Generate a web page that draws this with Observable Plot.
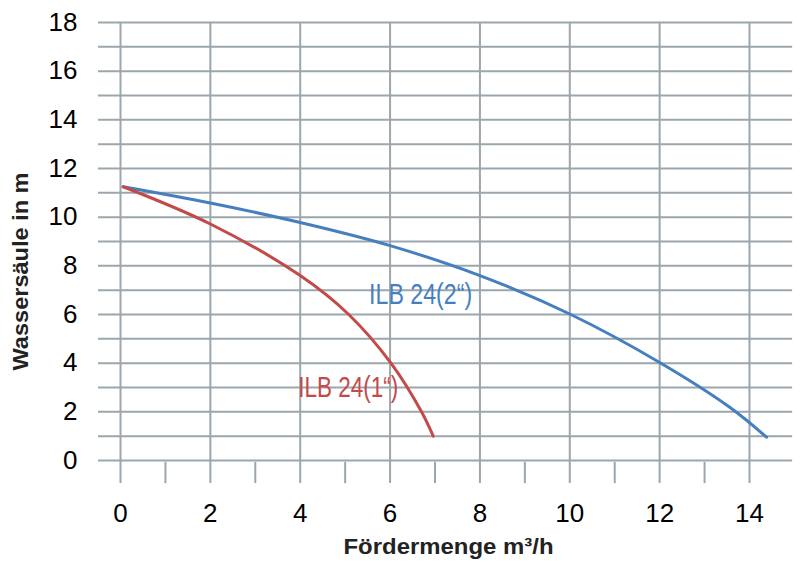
<!DOCTYPE html>
<html><head><meta charset="utf-8">
<script src="https://cdn.jsdelivr.net/npm/d3@7"></script>
<script src="https://cdn.jsdelivr.net/npm/@observablehq/plot@0.6"></script>
<style>body{margin:0;background:#fff;}</style>
</head><body><div id="chart"></div>
<script>
// Tick values
const xTicks = [0, 2, 4, 6, 8, 10, 12, 14];
const xMinorTicks = [1, 3, 5, 7, 9, 11, 13];
const yTicks = [0, 2, 4, 6, 8, 10, 12, 14, 16, 18];
const yGridLines = [0, 1, 2, 3, 4, 5, 6, 7, 8, 9, 10, 11, 12, 13, 14, 15, 16, 17, 18];

// Series: ILB 24(2") (blue)
const flow2 = [0.06, 2, 4, 6, 8, 10, 12, 13.56, 14.38];
const head2 = [11.25, 10.58, 9.78, 8.83, 7.6, 6.02, 4.03, 2.19, 0.96];
// Series: ILB 24(1") (red)
const flow1 = [0.06, 2, 4, 5.08, 6.02, 6.7, 6.96];
const head1 = [11.25, 9.72, 7.6, 6.0, 4.0, 2.0, 1.0];

const seriesNames = ["ILB 24(2\u201C)", "ILB 24(1\u201C)"];
const labelX = [6.68, 5.07];
const labelY = [6.81, 2.98];

const xTitle = "Fördermenge m³/h";
const yTitle = "Wassersäule in m";

const blue = "#467fbf", red = "#c24a48", gridColor = "#9ba6ad";
const gridLeft = -0.49, gridRight = 14.96, gridBottom = -0.95;

const pts2 = flow2.map((x, i) => ({x, y: head2[i]}));
const pts1 = flow1.map((x, i) => ({x, y: head1[i]}));
const labels = seriesNames.map((t, i) => ({t, x: labelX[i], y: labelY[i], c: i === 0 ? blue : red}));

const chart = Plot.plot({
  width: 803, height: 562,
  marginLeft: 120, marginRight: 54, marginTop: 22, marginBottom: 102,
  x: {domain: [0, 14]},
  y: {domain: [0, 18]},
  style: {fontFamily: "'Liberation Sans', Arial, Helvetica, sans-serif", fontSize: "26px", background: "#fff", color: "#000"},
  marks: [
    Plot.ruleY(yGridLines, {y: d => d, x1: gridLeft, x2: gridRight, stroke: gridColor, strokeWidth: 2}),
    Plot.ruleX(xTicks, {x: d => d, y1: gridBottom, y2: 18, stroke: gridColor, strokeWidth: 2}),
    Plot.ruleX(xMinorTicks, {x: d => d, y1: gridBottom, y2: -0.08, stroke: gridColor, strokeWidth: 2}),
    Plot.axisX(xTicks, {tickSize: 0, tickPadding: 43, fontSize: 26, label: null}),
    Plot.axisY(yTicks, {tickSize: 0, tickPadding: 43, fontSize: 26, label: null}),
    Plot.line(pts2, {x: "x", y: "y", stroke: blue, strokeWidth: 3, curve: "catmull-rom"}),
    Plot.line(pts1, {x: "x", y: "y", stroke: red, strokeWidth: 3, curve: "catmull-rom"}),
    Plot.text(labels, {x: "x", y: "y", text: "t", fill: "c", fontSize: 29, textAnchor: "middle", className: "serieslabel"}),
    Plot.text([xTitle], {frameAnchor: "bottom", text: d => d, dx: 13.5, dy: 93, fontSize: 22, fontWeight: "bold", fill: "#222", className: "xtitle"}),
    Plot.text([yTitle], {frameAnchor: "left", text: d => d, textAnchor: "middle", dx: -100, dy: 30, rotate: -90, fontSize: 22, fontWeight: "bold", fill: "#222", className: "ytitle"})
  ]
});
// Condensed lettering of the reference: fit label widths
const widths = [103, 100];
chart.querySelectorAll(".serieslabel text").forEach((t, i) => {
  t.setAttribute("textLength", widths[i]);
  t.setAttribute("lengthAdjust", "spacingAndGlyphs");
});
chart.querySelectorAll(".xtitle text").forEach(t => { t.setAttribute("textLength", 210); t.setAttribute("lengthAdjust", "spacingAndGlyphs"); });
chart.querySelectorAll(".ytitle text").forEach(t => { t.setAttribute("textLength", 198); t.setAttribute("lengthAdjust", "spacingAndGlyphs"); });
document.getElementById("chart").appendChild(chart);
</script>
</body></html>
